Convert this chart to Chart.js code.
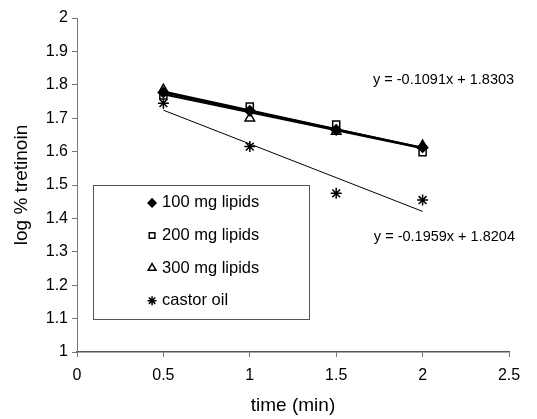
<!DOCTYPE html>
<html>
<head>
<meta charset="utf-8">
<script src="https://cdn.jsdelivr.net/npm/chart.js@4/dist/chart.umd.min.js"></script>
<style>
  html, body { margin: 0; padding: 0; background: #fff; }
  #wrap { width: 537px; height: 419px; }
</style>
</head>
<body>
<div id="wrap"><canvas id="chart" width="537" height="419"></canvas></div>
<script>
// время (мин)
const times = [0.5, 1, 1.5, 2];
// log % tretinoin по сериям
const lipids100 = [1.777, 1.722, 1.665, 1.613];
const lipids200 = [1.768, 1.735, 1.681, 1.598];
const lipids300 = [1.785, 1.700, 1.660, 1.618];
const castorOil = [1.745, 1.615, 1.475, 1.455];

const seriesNames = ['100 mg lipids', '200 mg lipids', '300 mg lipids', 'castor oil'];
const yTicks = [1, 1.1, 1.2, 1.3, 1.4, 1.5, 1.6, 1.7, 1.8, 1.9, 2];
const xTicks = [0, 0.5, 1, 1.5, 2, 2.5];

// подписи уравнений трендов (как на рисунке)
const equationTexts = ['y = -0.1091x + 1.8303', 'y = -0.1959x + 1.8204'];
const equationAnchors = [[1.713, 1.814], [1.718, 1.344]];

const FONT = '"Liberation Sans", Arial, sans-serif';

// линейный тренд по точкам серии
function trend(values) {
    const n = times.length;
    const mx = times.reduce((a, b) => a + b, 0) / n;
    const my = values.reduce((a, b) => a + b, 0) / n;
    let sxy = 0, sxx = 0;
    for (let i = 0; i < n; i++) {
        sxy += (times[i] - mx) * (values[i] - my);
        sxx += (times[i] - mx) * (times[i] - mx);
    }
    const k = sxy / sxx;
    const b = my - k * mx;
    const x0 = times[0], x1 = times[n - 1];
    return [{ x: x0, y: k * x0 + b }, { x: x1, y: k * x1 + b }];
}

function points(values) {
    return times.map((t, i) => ({ x: t, y: values[i] }));
}

const markerStyles = [
    { pointStyle: 'rectRot', radius: 5, bg: '#000', border: '#000' },
    { pointStyle: 'rect', radius: 5, bg: '#fff', border: '#000' },
    { pointStyle: 'triangle', radius: 5.5, bg: '#fff', border: '#000' },
    { pointStyle: 'star', radius: 5.5, bg: '#000', border: '#000' }
];
const allSeries = [lipids100, lipids200, lipids300, castorOil];
const lineWidths = [2, 2, 2, 1];

const datasets = [];
allSeries.forEach((vals, i) => {
    datasets.push({
        label: seriesNames[i] + ' trend',
        data: trend(vals),
        showLine: true,
        borderColor: '#000',
        borderWidth: lineWidths[i],
        pointRadius: 0,
        order: 2
    });
});
allSeries.forEach((vals, i) => {
    const m = markerStyles[i];
    datasets.push({
        label: seriesNames[i],
        data: points(vals),
        showLine: false,
        pointStyle: m.pointStyle,
        pointRadius: m.radius,
        pointBackgroundColor: m.bg,
        pointBorderColor: m.border,
        pointBorderWidth: 1.5,
        order: 1
    });
});

// рамка легенды внутри области графика + уравнения
const overlayPlugin = {
    id: 'overlay',
    afterDatasetsDraw(chart) {
        const ctx = chart.ctx;
        const xs = chart.scales.x, ys = chart.scales.y;
        ctx.save();
        // легенда
        const left = xs.getPixelForValue(0.093);
        const right = xs.getPixelForValue(1.343);
        const top = ys.getPixelForValue(1.5);
        const bottom = ys.getPixelForValue(1.1);
        ctx.fillStyle = '#fff';
        ctx.fillRect(left, top, right - left, bottom - top);
        ctx.strokeStyle = '#555';
        ctx.lineWidth = 1;
        ctx.strokeRect(Math.round(left) + 0.5, Math.round(top) + 0.5, Math.round(right - left), Math.round(bottom - top));
        const rowH = (bottom - top) / 4.1;
        ctx.font = '16.5px ' + FONT;
        ctx.textBaseline = 'middle';
        seriesNames.forEach((name, i) => {
            const y = top + rowH * (0.55 + i);
            const m = markerStyles[i];
            ctx.fillStyle = m.bg;
            ctx.strokeStyle = m.border;
            ctx.lineWidth = 1.5;
            Chart.helpers.drawPoint(ctx, { pointStyle: m.pointStyle, radius: m.radius - 1, borderWidth: 1.5, rotation: 0 }, left + 59, y);
            ctx.fillStyle = '#000';
            ctx.fillText(name, left + 69, y);
        });
        // уравнения трендов
        ctx.font = '14.5px ' + FONT;
        ctx.fillStyle = '#000';
        equationTexts.forEach((txt, i) => {
            const a = equationAnchors[i];
            ctx.fillText(txt, xs.getPixelForValue(a[0]), ys.getPixelForValue(a[1]));
        });
        ctx.restore();
    }
};

const tickFmt = v => String(+Number(v).toFixed(1));

new Chart(document.getElementById('chart').getContext('2d'), {
    type: 'scatter',
    data: { datasets: datasets },
    options: {
        responsive: false,
        animation: false,
        devicePixelRatio: 1,
        layout: { padding: { top: 18, right: 28, bottom: 0, left: 0 } },
        plugins: { legend: { display: false }, tooltip: { enabled: false } },
        scales: {
            x: {
                type: 'linear',
                min: 0, max: 2.5,
                afterBuildTicks: s => { s.ticks = xTicks.map(v => ({ value: v })); },
                afterFit: s => { s.height = 67; },
                ticks: { callback: tickFmt, color: '#000', font: { family: FONT, size: 16 }, padding: 9, maxRotation: 0 },
                grid: { drawOnChartArea: false, drawTicks: true, tickLength: 5, color: '#777' },
                border: { color: '#555', width: 1.5 },
                title: { display: true, text: 'time (min)', color: '#000', font: { family: FONT, size: 19 }, padding: { top: 2, bottom: 2 } }
            },
            y: {
                type: 'linear',
                min: 1, max: 2,
                afterBuildTicks: s => { s.ticks = yTicks.map(v => ({ value: v })); },
                afterFit: s => { s.width = 77; },
                ticks: { callback: tickFmt, color: '#000', font: { family: FONT, size: 16 }, padding: 4 },
                grid: { drawOnChartArea: false, drawTicks: true, tickLength: 5, color: '#777' },
                border: { color: '#777', width: 1 },
                title: { display: true, text: 'log % tretinoin', color: '#000', font: { family: FONT, size: 19 }, padding: { top: 10, bottom: 4 } }
            }
        }
    },
    plugins: [overlayPlugin]
});
</script>
</body>
</html>
